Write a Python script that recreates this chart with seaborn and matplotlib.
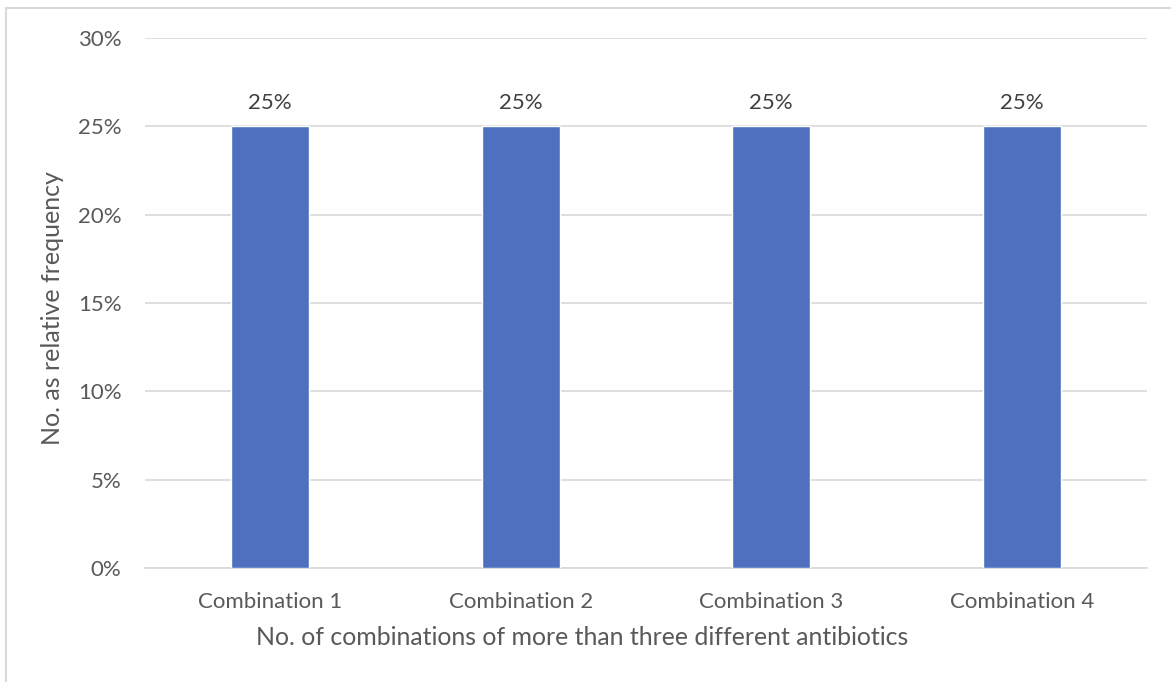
import matplotlib
matplotlib.use("Agg")
import matplotlib.pyplot as plt
from matplotlib.lines import Line2D
from matplotlib.ticker import FuncFormatter
import seaborn as sns
import pandas as pd

categories = ["Combination 1", "Combination 2", "Combination 3", "Combination 4"]
relative_frequency = [25, 25, 25, 25]
y_ticks = [0, 5, 10, 15, 20, 25, 30]

sns.set_theme(style="white")
plt.rcParams["font.family"] = ["Lato", "DejaVu Sans"]

TEXT = "#595959"
BAR = "#4F70BE"
GRID = "#D9D9D9"

df = pd.DataFrame({"combination": categories, "freq": relative_frequency})

fig = plt.figure(figsize=(11.71, 6.82), dpi=100)
ax = fig.add_axes([145 / 1171, 1 - 568 / 682, (1147 - 145) / 1171, (568 - 38) / 682])

sns.barplot(data=df, x="combination", y="freq", color=BAR, width=0.31,
            saturation=1, ax=ax, zorder=3)

ax.set_ylim(0, 30)
ax.set_xlim(-0.5, len(categories) - 0.5)
ax.set_yticks(y_ticks)
ax.yaxis.set_major_formatter(FuncFormatter(lambda v, _: f"{v:.0f}%"))
ax.grid(axis="y", color=GRID, linewidth=1.2, zorder=0)
for s in ["top", "right", "left"]:
    ax.spines[s].set_visible(False)
ax.spines["bottom"].set_color(GRID)
ax.spines["bottom"].set_linewidth(1.2)
ax.tick_params(axis="both", length=0, labelsize=16, labelcolor=TEXT)
ax.tick_params(axis="y", pad=17)
ax.tick_params(axis="x", pad=17)

for container in ax.containers:
    ax.bar_label(container, labels=[f"{v:.0f}%" for v in relative_frequency],
                 padding=9.5, fontsize=16, color="#404040")

ax.set_xlabel("No. of combinations of more than three different antibiotics",
              fontsize=17.9, color=TEXT)
ax.xaxis.set_label_coords(0.436, -0.132, transform=ax.transAxes)
ax.xaxis.label.set_verticalalignment("center")
ax.set_ylabel("No. as relative frequency", fontsize=18, color=TEXT)
ax.yaxis.set_label_coords(-0.0928, 0.4896, transform=ax.transAxes)
ax.yaxis.label.set_horizontalalignment("center")
ax.yaxis.label.set_verticalalignment("center")

# outer frame lines
fig.add_artist(Line2D([6 / 1171, 1], [1 - 8 / 682, 1 - 8 / 682], color="#D9D9D9",
                      linewidth=1.5, transform=fig.transFigure))
fig.add_artist(Line2D([6 / 1171, 6 / 1171], [0, 1 - 8 / 682], color="#D9D9D9",
                      linewidth=1.5, transform=fig.transFigure))

fig.savefig("out.png", dpi=100, facecolor="white")
